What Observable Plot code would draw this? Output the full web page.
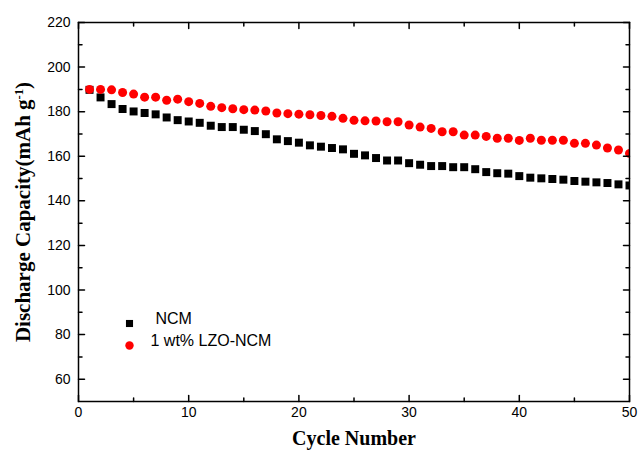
<!DOCTYPE html>
<html>
<head>
<meta charset="utf-8">
<script src="https://cdn.jsdelivr.net/npm/d3@7"></script>
<script src="https://cdn.jsdelivr.net/npm/@observablehq/plot@0.6"></script>
<style>
  body { margin: 0; background: #fff; }
  #chart svg { display: block; }
</style>
</head>
<body>
<div id="chart"></div>
<script>
// Cycle index and discharge capacity (mAh g^-1) of the two cathodes
const cycles = [1, 2, 3, 4, 5, 6, 7, 8, 9, 10, 11, 12, 13, 14, 15, 16, 17, 18, 19, 20,
  21, 22, 23, 24, 25, 26, 27, 28, 29, 30, 31, 32, 33, 34, 35, 36, 37, 38, 39, 40,
  41, 42, 43, 44, 45, 46, 47, 48, 49, 50];

const ncm = [189.8, 186.4, 183.4, 181.2, 180.1, 179.4, 178.8, 177.4, 176.2, 175.6,
  175.0, 173.7, 173.1, 173.1, 171.9, 171.3, 169.9, 167.6, 166.8, 166.1,
  164.9, 164.3, 163.7, 163.1, 161.1, 160.4, 159.2, 158.1, 158.1, 156.9,
  156.2, 155.6, 155.6, 155.1, 155.1, 154.2, 152.9, 152.4, 152.2, 151.1,
  150.4, 150.1, 149.8, 149.5, 148.9, 148.6, 148.3, 148.0, 147.4, 146.9];

const lzoNcm = [190.0, 190.0, 189.8, 188.6, 187.9, 186.5, 186.5, 185.1, 185.6, 184.5,
  183.7, 182.4, 181.8, 181.3, 180.9, 180.7, 180.3, 179.4, 179.1, 178.9,
  178.6, 178.3, 177.9, 177.0, 176.1, 175.9, 175.8, 175.5, 175.5, 174.0,
  173.1, 172.5, 171.0, 171.0, 169.5, 169.5, 168.9, 168.1, 168.1, 167.1,
  168.1, 167.2, 167.2, 167.2, 165.8, 165.8, 165.0, 163.7, 162.8, 161.3];

const seriesNames = ["NCM", "1 wt% LZO-NCM"];

const xMajorTicks = [0, 10, 20, 30, 40, 50];
const xMinorTicks = [5, 15, 25, 35, 45];
const yMajorTicks = [60, 80, 100, 120, 140, 160, 180, 200, 220];
const yMinorTicks = [70, 90, 110, 130, 150, 170, 190, 210];

const xTitle = "Cycle Number";
const yTitle = "Discharge Capacity(mAh g";
const yTitleSup = "-1";
const yTitleEnd = ")";

const toRows = (values, series) => cycles.map((c, i) => ({cycle: c, capacity: values[i], series}));
const ncmRows = toRows(ncm, seriesNames[0]);
const lzoRows = toRows(lzoNcm, seriesNames[1]);

// Straight tick stroke used for the inward-facing frame ticks
const tickLine = {draw(context, l) { context.moveTo(0, 0); context.lineTo(0, -l); }};
const inwardTicks = (values, channel, frameAnchor, rotate, length) =>
  Plot.vector(values, {
    [channel]: d => d, frameAnchor, rotate, length, anchor: "start",
    shape: tickLine, stroke: "black", strokeWidth: 1.5
  });

const serif = "'Liberation Serif', 'Times New Roman', serif";

const chart = Plot.plot({
  width: 638,
  height: 455,
  marginLeft: 78,
  marginRight: 9,
  marginTop: 22,
  marginBottom: 54,
  style: {fontFamily: "'Liberation Sans', Arial, sans-serif", fontSize: "14px", color: "black", background: "white"},
  x: {domain: [0, 50], axis: null},
  y: {domain: [50, 220], axis: null},
  marks: [
    // data
    Plot.dot(ncmRows, {x: "cycle", y: "capacity", symbol: "square", r: 4.5, fill: "black", clip: true}),
    Plot.dot(lzoRows, {x: "cycle", y: "capacity", symbol: "circle", r: 4.5, fill: "#ff0000", clip: true}),

    // frame and ticks on all four sides
    Plot.frame({stroke: "black", strokeWidth: 1.5}),
    inwardTicks(xMajorTicks, "x", "bottom", 0, 6),
    inwardTicks(xMinorTicks, "x", "bottom", 0, 3.5),
    inwardTicks(xMajorTicks, "x", "top", 180, 6),
    inwardTicks(xMinorTicks, "x", "top", 180, 3.5),
    inwardTicks(yMajorTicks, "y", "left", 90, 6),
    inwardTicks(yMinorTicks, "y", "left", 90, 3.5),
    inwardTicks(yMajorTicks, "y", "right", -90, 6),
    inwardTicks(yMinorTicks, "y", "right", -90, 3.5),

    // tick labels
    Plot.axisX({ticks: xMajorTicks, tickSize: 0, tickPadding: 6, label: null}),
    Plot.axisY({ticks: yMajorTicks, tickSize: 0, tickPadding: 8, label: null}),

    // axis titles
    Plot.text([xTitle], {text: d => d, frameAnchor: "bottom", dy: 43, fontFamily: serif, fontWeight: "bold", fontSize: 20}),
    Plot.text([yTitle], {text: d => d, frameAnchor: "left", textAnchor: "middle", dx: -55, rotate: -90, fontFamily: serif, fontWeight: "bold", fontSize: 21}),

    // legend
    Plot.dot([seriesNames[0]], {frameAnchor: "bottom-left", dx: 51, dy: -78, symbol: "square", r: 4, fill: "black"}),
    Plot.dot([seriesNames[1]], {frameAnchor: "bottom-left", dx: 51, dy: -56, symbol: "circle", r: 4.2, fill: "#ff0000"}),
    Plot.text([seriesNames[0]], {text: d => d, frameAnchor: "bottom-left", dx: 77, dy: -78, textAnchor: "start", fontSize: 16}),
    Plot.text([seriesNames[1]], {text: d => d, frameAnchor: "bottom-left", dx: 72, dy: -56, textAnchor: "start", fontSize: 16})
  ]
});

// superscript unit exponent on the y title
const yt = d3.select(chart).selectAll("text").filter(function() { return this.textContent === yTitle; });
yt.text(null);
yt.append("tspan").text(yTitle);
yt.append("tspan").attr("baseline-shift", "super").attr("font-size", "0.6em").text(yTitleSup);
yt.append("tspan").text(yTitleEnd);

document.getElementById("chart").append(chart);
</script>
</body>
</html>
